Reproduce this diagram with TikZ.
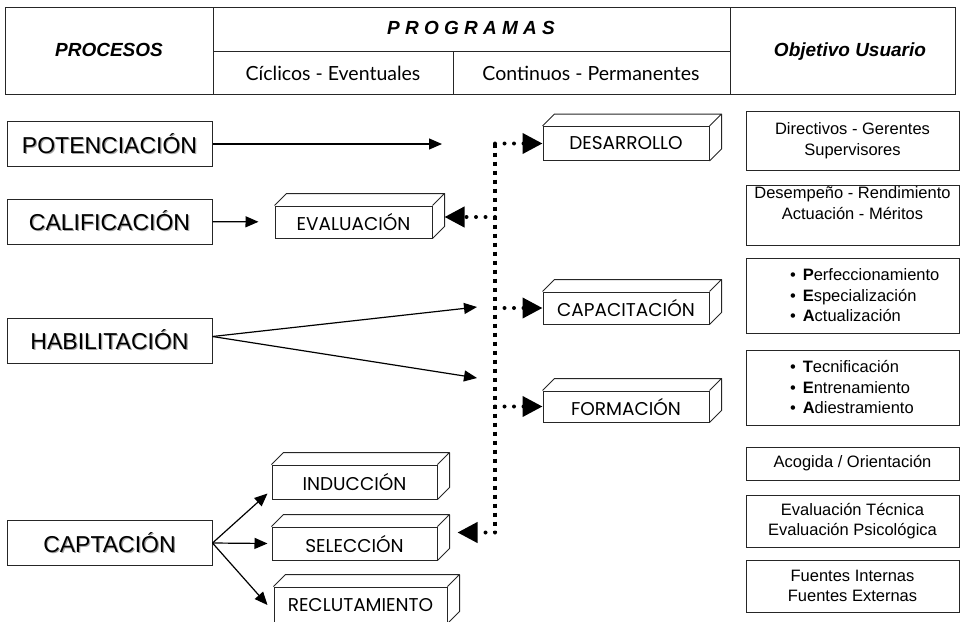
\documentclass[tikz,border=0pt]{standalone}
\usepackage{fontspec}
\setmainfont{Liberation Sans}
\newfontfamily\gothic{Poppins}
\newfontfamily\thinsans{Lato}
\usetikzlibrary{arrows.meta,calc}
\newcommand{\shd}[1]{\rlap{\textcolor{black!35}{\hspace{1.2bp}\raisebox{-1.2bp}{#1}}}#1}
\newcommand{\itm}[2]{\mbox{\hspace*{40bp}\textbullet\hspace{7bp}\textbf{#1}#2}}

\begin{document}
\begin{tikzpicture}[
  proc/.style={draw=black!85,line width=1bp,minimum width=205bp,minimum height=45bp,inner sep=0pt,font=\fontsize{23bp}{26bp}\selectfont},
  prog/.style={draw=black!85,line width=1bp,fill=white,minimum height=34bp,inner sep=0pt,font=\gothic\fontsize{18.5bp}{20bp}\selectfont},
  goal/.style={draw=black!85,line width=1bp,minimum width=213bp,inner sep=0pt,align=center,font=\fontsize{16.5bp}{20.5bp}\selectfont},
  head/.style={font=\bfseries\itshape\fontsize{19bp}{22bp}\selectfont},
  sub/.style={font=\thinsans\fontsize{19.5bp}{22bp}\selectfont},
  line/.style={line width=1.2bp,-{Triangle[length=13bp,width=11bp]}},
  dots/.style={line width=4bp,line cap=round,dash pattern=on 0bp off 9.5bp,-{Triangle[length=20bp,width=20bp]}},
  rail/.style={line width=4bp,dash pattern=on 4bp off 5bp},
]
\useasboundingbox (0,0) rectangle (961bp,-622bp);

% header table
\draw[line width=1bp,black!85] (5bp,-7bp) rectangle (955bp,-94bp);
\draw[line width=1bp,black!85] (213bp,-7bp) -- (213bp,-94bp) (730bp,-7bp) -- (730bp,-94bp)
  (213bp,-51bp) -- (730bp,-51bp) (453bp,-51bp) -- (453bp,-94bp);
\node (hProc) at (109bp,-50bp)[head] {PROCESOS};
\node (hProg) at (471bp,-28bp)[head] {P R O G R A M A S};
\node (hCyc) at (333bp,-73bp)[sub] {Cíclicos - Eventuales};
\node (hCon) at (591bp,-73bp)[sub] {Continuos - Permanentes};
\node (hObj) at (850bp,-52bp)[head] {Objetivo Usuario};

% procesos
\node (POT) at (109.5bp,-144bp)[proc] {\shd{POTENCIACIÓN}};
\node (CAL) at (109.5bp,-221.5bp)[proc] {\shd{CALIFICACIÓN}};
\node (HAB) at (109.5bp,-340.5bp)[proc] {\shd{HABILITACIÓN}};
\node (CAP) at (109.5bp,-543bp)[proc] {\shd{CAPTACIÓN}};

% programas
\node (DES) at (626bp,-143.5bp)[prog,minimum width=166bp] {DESARROLLO};
\node (EVA) at (353.5bp,-222bp)[prog,minimum width=157bp,minimum height=32bp] {EVALUACIÓN};
\node (CPC) at (626bp,-308bp)[prog,minimum width=166bp,minimum height=32bp] {CAPACITACIÓN};
\node (FOR) at (626bp,-406.5bp)[prog,minimum width=166bp,minimum height=31bp] {FORMACIÓN};
\node (IND) at (354.5bp,-482bp)[prog,minimum width=165bp] {INDUCCIÓN};
\node (SEL) at (354.5bp,-543.5bp)[prog,minimum width=165bp,minimum height=33bp] {SELECCIÓN};
\node (REC) at (360.5bp,-605bp)[prog,minimum width=173bp,minimum height=36bp] {RECLUTAMIENTO};
\foreach \b in {DES,EVA,CPC,FOR,IND,SEL,REC}
  \draw[line width=1bp,black!85,line join=round] (\b.north west) -- ++(12bp,12bp)
    -| ([shift={(12bp,12bp)}]\b.south east) -- (\b.south east) (\b.north east) -- ++(12bp,12bp);

% objetivo usuario
\node (R1) at (852.5bp,-140.5bp)[goal,minimum height=59bp] {Directivos - Gerentes\\Supervisores};
\node (R2) at (852.5bp,-215bp)[goal,minimum height=60bp,text depth=24bp] {Desempeño - Rendimiento\\Actuación - Méritos};
\node (R3) at (852.5bp,-295.5bp)[goal,minimum height=75bp,text width=205bp,align=left] {\itm{P}{erfeccionamiento}\\\itm{E}{specialización}\\\itm{A}{ctualización}};
\node (R4) at (852.5bp,-387.5bp)[goal,minimum height=75bp,text width=205bp,align=left] {\itm{T}{ecnificación}\\\itm{E}{ntrenamiento}\\\itm{A}{diestramiento}};
\node (R5) at (852.5bp,-463.5bp)[goal,minimum height=33bp] {Acogida / Orientación};
\node (R6) at (852.5bp,-521bp)[goal,minimum height=52bp] {Evaluación Técnica\\Evaluación Psicológica};
\node (R7) at (852.5bp,-586bp)[goal,minimum height=52bp] {Fuentes Internas\\Fuentes Externas};

% flechas
\coordinate (potend) at (442bp,-144bp);
\coordinate (habup) at (477bp,-307bp);
\coordinate (habdn) at (477bp,-378bp);
\draw[line] (POT) -- (potend);
\draw[line,shorten >=16bp] (CAL) -- (EVA);
\draw[line] ([yshift=4bp]HAB.east) -- (habup);
\draw[line] ([yshift=4bp]HAB.east) -- (habdn);
\draw[line] (CAP.east) -- ([shift={(-4bp,6bp)}]IND.south west);
\draw[line] (CAP.east) -- ([xshift=-4bp]SEL.west);
\draw[line] (CAP.east) -- ([xshift=-6bp]REC.west);

% linea punteada
\coordinate (vtop) at (495bp,-143.5bp);
\coordinate (evain) at ([shift={(12bp,5bp)}]EVA.east);
\coordinate (selin) at ([shift={(20bp,11bp)}]SEL.east);
\coordinate (vbot) at (vtop |- selin);
\draw[rail] (vtop) -- (vbot);
\draw[dots] (vtop) -- (DES.west);
\draw[dots] (vtop |- evain) -- (evain);
\draw[dots] (vtop |- CPC.west) -- (CPC.west);
\draw[dots] (vtop |- FOR.west) -- (FOR.west);
\draw[dots] (vbot) -- (selin);
\end{tikzpicture}
\end{document}
